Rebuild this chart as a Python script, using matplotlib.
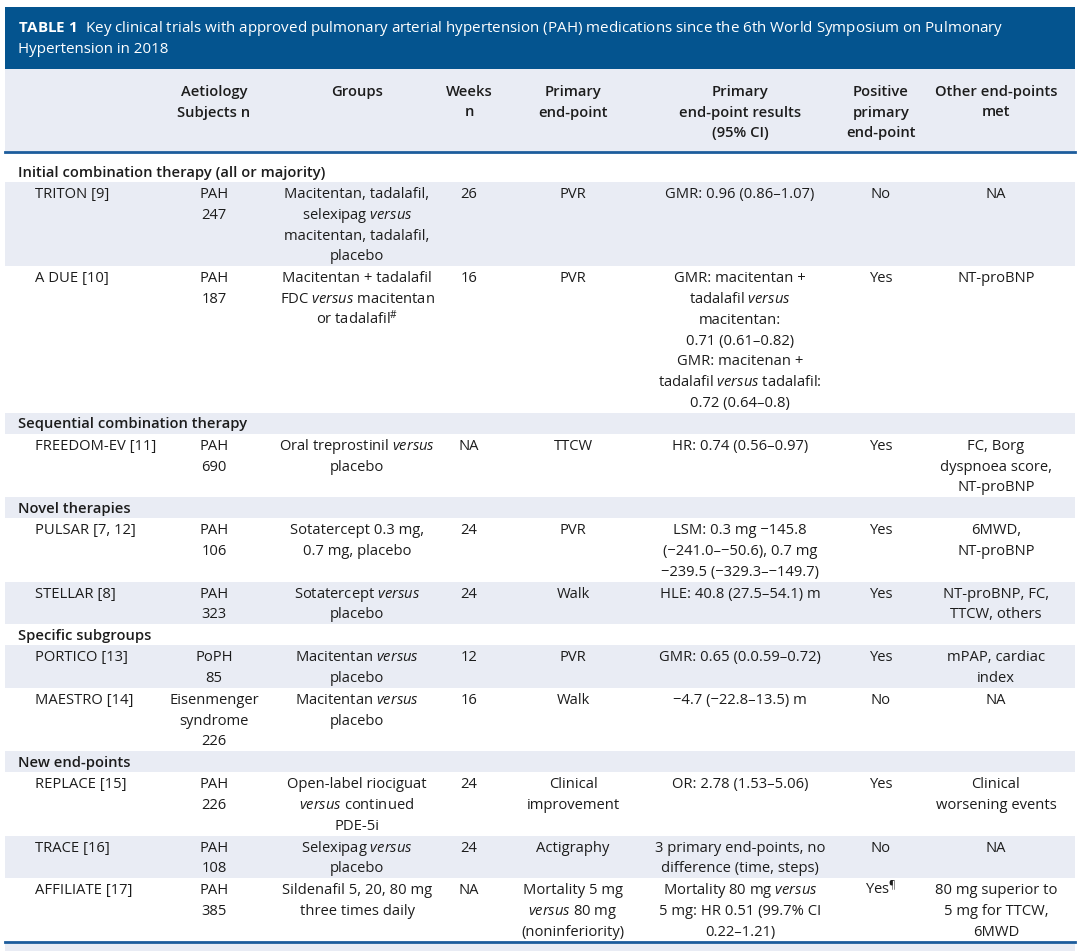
import matplotlib
matplotlib.use("Agg")
import matplotlib.pyplot as plt
from matplotlib.patches import Rectangle

plt.rcParams['font.family'] = ['Open Sans', 'DejaVu Sans']
plt.rcParams['mathtext.fontset'] = 'custom'
plt.rcParams['mathtext.rm'] = 'Open Sans'
plt.rcParams['mathtext.it'] = 'Open Sans:italic'
plt.rcParams['mathtext.bf'] = 'Open Sans:bold'

# ---- table content ----
title_lines = [r"$\mathbf{TABLE\ 1}$  Key clinical trials with approved pulmonary arterial hypertension (PAH) medications since the 6th World Symposium on Pulmonary",
               "Hypertension in 2018"]

headers = ["", "Aetiology\nSubjects n", "Groups", "Weeks\nn", "Primary\nend-point",
           "Primary\nend-point results\n(95% CI)", "Positive\nprimary\nend-point", "Other end-points\nmet"]

sections = ["Initial combination therapy (all or majority)", "Sequential combination therapy",
            "Novel therapies", "Specific subgroups", "New end-points"]
section_start = [0, 2, 3, 5, 7]

trials = ["TRITON [9]", "A DUE [10]", "FREEDOM-EV [11]", "PULSAR [7, 12]", "STELLAR [8]",
          "PORTICO [13]", "MAESTRO [14]", "REPLACE [15]", "TRACE [16]", "AFFILIATE [17]"]
aetiology = ["PAH\n247", "PAH\n187", "PAH\n690", "PAH\n106", "PAH\n323", "PoPH\n85",
             "Eisenmenger\nsyndrome\n226", "PAH\n226", "PAH\n108", "PAH\n385"]
groups = ["Macitentan, tadalafil,\nselexipag versus\nmacitentan, tadalafil,\nplacebo",
          "Macitentan + tadalafil\nFDC versus macitentan\nor tadalafil$^{\\#}$",
          "Oral treprostinil versus\nplacebo",
          "Sotatercept 0.3 mg,\n0.7 mg, placebo",
          "Sotatercept versus\nplacebo",
          "Macitentan versus\nplacebo",
          "Macitentan versus\nplacebo",
          "Open-label riociguat\nversus continued\nPDE-5i",
          "Selexipag versus\nplacebo",
          "Sildenafil 5, 20, 80 mg\nthree times daily"]
weeks = ["26", "16", "NA", "24", "24", "12", "16", "24", "24", "NA"]
endpoint = ["PVR", "PVR", "TTCW", "PVR", "Walk", "PVR", "Walk", "Clinical\nimprovement",
            "Actigraphy", "Mortality 5 mg\nversus 80 mg\n(noninferiority)"]
results = ["GMR: 0.96 (0.86–1.07)",
           "GMR: macitentan +\ntadalafil versus\nmacitentan:\n0.71 (0.61–0.82)\nGMR: macitenan +\ntadalafil versus tadalafil:\n0.72 (0.64–0.8)",
           "HR: 0.74 (0.56–0.97)",
           "LSM: 0.3 mg −145.8\n(−241.0–−50.6), 0.7 mg\n−239.5 (−329.3–−149.7)",
           "HLE: 40.8 (27.5–54.1) m",
           "GMR: 0.65 (0.0.59–0.72)",
           "−4.7 (−22.8–13.5) m",
           "OR: 2.78 (1.53–5.06)",
           "3 primary end-points, no\ndifference (time, steps)",
           "Mortality 80 mg versus\n5 mg: HR 0.51 (99.7% CI\n0.22–1.21)"]
positive = ["No", "Yes", "Yes", "Yes", "Yes", "Yes", "No", "Yes", "No", "Yes$^{¶}$"]
other = ["NA", "NT-proBNP", "FC, Borg\ndyspnoea score,\nNT-proBNP", "6MWD,\nNT-proBNP",
         "NT-proBNP, FC,\nTTCW, others", "mPAP, cardiac\nindex", "NA",
         "Clinical\nworsening events", "NA", "80 mg superior to\n5 mg for TTCW,\n6MWD"]

# ---- layout / style ----
W, H = 1080, 951
col_x = [35, 214, 357, 469, 573, 740, 881, 996]
blue_dark = "#04548f"
blue_line = "#1c5c9c"
shade = "#e9ecf4"
txt = "#1c1c1c"
fs = 10.6
lh = 20.8

fig = plt.figure(figsize=(W / 100, H / 100), dpi=100)
ax = fig.add_axes([0, 0, 1, 1])
ax.set_xlim(0, W)
ax.set_ylim(H, 0)
ax.axis('off')

left, right = 5, 1075


def fmt(s):
    return s.replace("versus", r"$\mathit{versus}$")


def put(x, y_top, s, ha='center', weight='normal', color=txt, size=fs, step=lh):
    for i, line in enumerate(s.split("\n")):
        ax.text(x, y_top + 16 + i * step, fmt(line), ha=ha, va='baseline',
                fontsize=size, fontweight=weight, color=color)


# title bar
ax.add_patch(Rectangle((left, 7), right - left, 62, color=blue_dark, lw=0))
put(18, 16, "\n".join(title_lines), ha='left', color='white', size=10.9, step=21)

# header
ax.add_patch(Rectangle((left, 69), right - left, 82, color=shade, lw=0))
for x, h in zip(col_x, headers):
    put(x, 80, h, weight='semibold', step=20.5)
ax.plot([left, right], [152, 152], color=blue_line, lw=2)

# body rows
y = 161
row = 0
for i in range(len(trials)):
    if i in section_start:
        name = sections[section_start.index(i)]
        if row % 2 == 1:
            ax.add_patch(Rectangle((left, y), right - left, 21, color=shade, lw=0))
        put(18, y - 0.5, name, ha='left', weight='semibold')
        y += 21
        row += 1
    cells = [trials[i], aetiology[i], groups[i], weeks[i], endpoint[i], results[i], positive[i], other[i]]
    n = max(c.count("\n") + 1 for c in cells)
    hgt = n * lh + 1
    if row % 2 == 1:
        ax.add_patch(Rectangle((left, y), right - left, hgt, color=shade, lw=0))
    for j, (x, c) in enumerate(zip(col_x, cells)):
        put(x, y, c, ha='left' if j == 0 else 'center')
    y += hgt
    row += 1

ax.plot([left, right], [y, y], color=blue_line, lw=2)
ax.add_patch(Rectangle((left, y + 2), right - left, H - y, color=shade, lw=0))

fig.savefig("out.png", dpi=100)
